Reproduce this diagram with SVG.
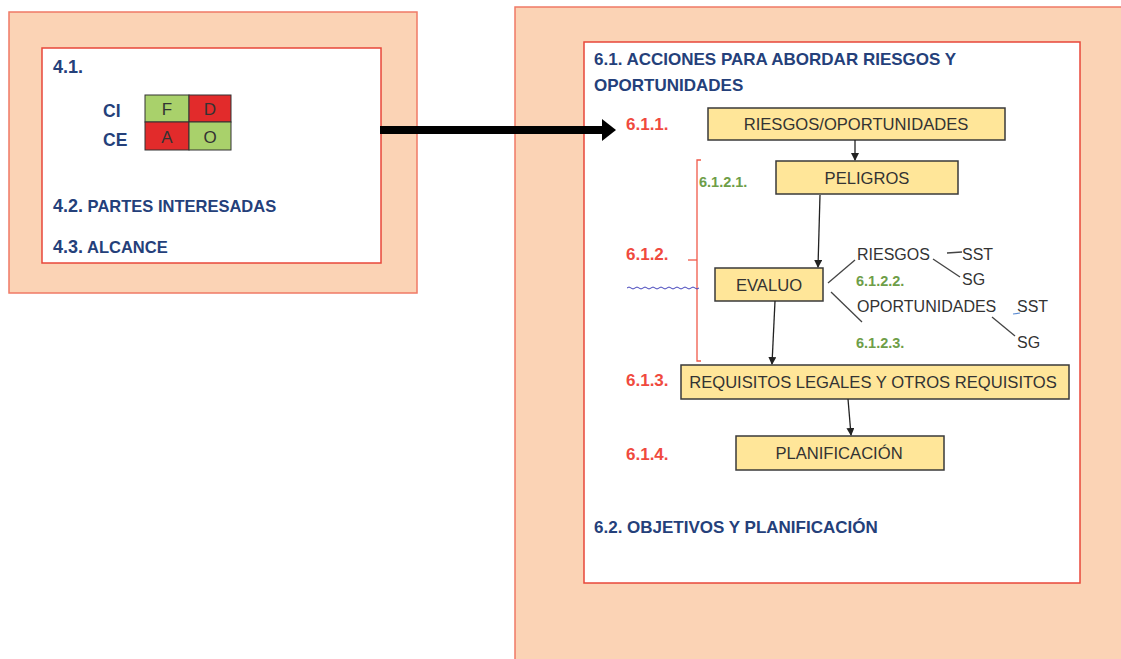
<svg xmlns="http://www.w3.org/2000/svg" width="1121" height="659" viewBox="0 0 1121 659">
<style>
.outer{fill:#FBD3B5;stroke:#F07A66;stroke-width:1.5}
.inner{fill:#FFFFFF;stroke:#E8473A;stroke-width:1.5}
.box{fill:#FFE699;stroke:#3A3A3A;stroke-width:1.5}
.bt{font-family:"Liberation Sans",Arial,sans-serif;font-size:16.6px;fill:#333333;text-anchor:middle}
.blue{font-family:"Liberation Sans",Arial,sans-serif;font-weight:bold;fill:#24407A}
.red{font-family:"Liberation Sans",Arial,sans-serif;font-weight:bold;font-size:17px;fill:#F04A3E}
.green{font-family:"Liberation Sans",Arial,sans-serif;font-weight:bold;font-size:14.5px;fill:#6E9E48}
.plain{font-family:"Liberation Sans",Arial,sans-serif;font-size:16px;fill:#333333}
.cell{font-family:"Liberation Sans",Arial,sans-serif;font-size:17px;fill:#333333;text-anchor:middle}
.conn{stroke:#222;stroke-width:1.3;fill:none}
.thin{stroke:#444;stroke-width:1.3;fill:none}
</style>
<defs>
<marker id="ah" markerWidth="8" markerHeight="8" refX="7" refY="4" orient="auto" markerUnits="userSpaceOnUse">
<path d="M0,0 L8,4 L0,8 Z" fill="#222"/>
</marker>
</defs>
<rect x="0" y="0" width="1121" height="659" fill="#FFFFFF"/>

<g id="left-panel">
<rect class="outer" x="9" y="12" width="408" height="281"/>
<rect class="inner" x="42" y="48" width="339" height="215"/>
<text class="blue" x="53" y="73" font-size="18">4.1.</text>
<text class="blue" x="103" y="117" font-size="17.5">CI</text>
<text class="blue" x="103" y="146" font-size="17.5">CE</text>
<g id="foda">
<rect x="145" y="95" width="44" height="27" fill="#A9D16B" stroke="#333" stroke-width="1"/>
<rect x="189" y="95" width="42" height="27" fill="#E22B2B" stroke="#333" stroke-width="1"/>
<rect x="145" y="122" width="44" height="28" fill="#E22B2B" stroke="#333" stroke-width="1"/>
<rect x="189" y="122" width="42" height="28" fill="#A9D16B" stroke="#333" stroke-width="1"/>
<text class="cell" x="167" y="115">F</text>
<text class="cell" x="210" y="115">D</text>
<text class="cell" x="167" y="143">A</text>
<text class="cell" x="210" y="143">O</text>
</g>
<text class="blue" x="53" y="212"><tspan font-size="18">4.2.</tspan><tspan font-size="16.5"> PARTES INTERESADAS</tspan></text>
<text class="blue" x="53" y="253"><tspan font-size="18">4.3.</tspan><tspan font-size="16.5"> ALCANCE</tspan></text>
</g>

<g id="right-panel">
<rect class="outer" x="515" y="7" width="620" height="670"/>
<rect class="inner" x="584" y="42" width="496" height="541"/>
<text class="blue" x="594" y="65" font-size="17">6.1. ACCIONES PARA ABORDAR RIESGOS Y</text>
<text class="blue" x="594" y="91" font-size="17">OPORTUNIDADES</text>
<text class="blue" x="594" y="533" font-size="17">6.2. OBJETIVOS Y PLANIFICACIÓN</text>
</g>

<g id="labels">
<text class="red" x="626" y="130">6.1.1.</text>
<text class="red" x="626" y="260">6.1.2.</text>
<text class="red" x="626" y="386">6.1.3.</text>
<text class="red" x="626" y="460">6.1.4.</text>
<text class="green" x="699" y="187">6.1.2.1.</text>
<text class="green" x="856" y="286">6.1.2.2.</text>
<text class="green" x="856" y="348">6.1.2.3.</text>
</g>

<g id="bracket">
<path d="M701,160 H697 V361 H701" stroke="#F05A4A" stroke-width="1.3" fill="none"/>
<path d="M688,260 H697" stroke="#F05A4A" stroke-width="1.3" fill="none"/>
<path d="M627,288 q2,-2 4,0 t4,0 t4,0 t4,0 t4,0 t4,0 t4,0 t4,0 t4,0 t4,0 t4,0 t4,0 t4,0 t4,0 t4,0 t4,0 t4,0 t4,0" stroke="#4444BB" stroke-width="1" fill="none"/>
</g>

<g id="n-riesgos-oport">
<rect class="box" x="708" y="108" width="297" height="32"/>
<text class="bt" x="856" y="130">RIESGOS/OPORTUNIDADES</text>
</g>
<g id="n-peligros">
<rect class="box" x="776" y="161" width="182" height="33"/>
<text class="bt" x="867" y="184">PELIGROS</text>
</g>
<g id="n-evaluo">
<rect class="box" x="715" y="268" width="108" height="33"/>
<text class="bt" x="769" y="291">EVALUO</text>
</g>
<g id="n-requisitos">
<rect class="box" x="681" y="365" width="388" height="34"/>
<text class="bt" x="873" y="388">REQUISITOS LEGALES Y OTROS REQUISITOS</text>
</g>
<g id="n-planificacion">
<rect class="box" x="736" y="436" width="208" height="34"/>
<text class="bt" x="839" y="459">PLANIFICACIÓN</text>
</g>

<g id="branches">
<text class="plain" x="857" y="260">RIESGOS</text>
<text class="plain" x="962" y="260">SST</text>
<text class="plain" x="962" y="285">SG</text>
<text class="plain" x="857" y="312">OPORTUNIDADES</text>
<text class="plain" x="1017" y="312">SST</text>
<text class="plain" x="1017" y="348">SG</text>
</g>

<g id="connectors">
<path d="M380,130 H604" stroke="#000" stroke-width="8" fill="none"/>
<path d="M602,119 L616,130 L602,141 Z" fill="#000"/>
<path class="conn" d="M855,140 V160" marker-end="url(#ah)"/>
<path class="conn" d="M820,195 L818,267" marker-end="url(#ah)"/>
<path class="conn" d="M775,301 L772,364" marker-end="url(#ah)"/>
<path class="conn" d="M848,399 L851,435" marker-end="url(#ah)"/>
<path class="thin" d="M828,283 L855,260"/>
<path class="thin" d="M831,292 L862,322"/>
<path class="thin" d="M947,253 L962,252"/>
<path class="thin" d="M933,259 L960,277"/>
<path d="M1013,314 L1020,313" stroke="#5B8BD0" stroke-width="1.2" fill="none"/>
<path class="thin" d="M992,317 L1015,336"/>
</g>
</svg>
